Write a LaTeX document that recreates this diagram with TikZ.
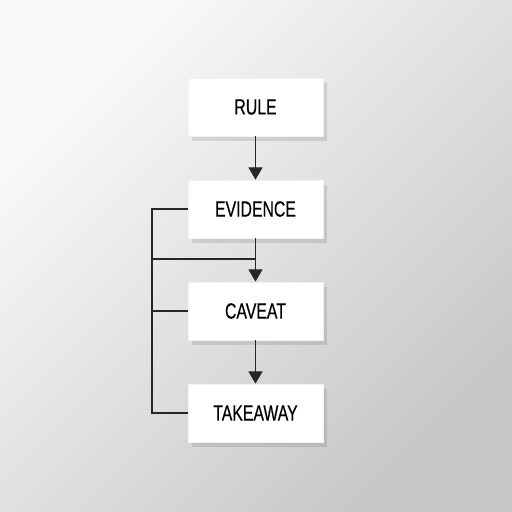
\documentclass[tikz,border=0pt]{standalone}
\usepackage{fontspec}
\setmainfont{Liberation Sans}[FakeStretch=0.72, FakeBold=0.4]
\usetikzlibrary{shadows, arrows.meta}
\tikzset{
	card/.style = {fill=white, draw=black!5, minimum width=135*0.02cm, minimum height=58*0.02cm,
		inner sep=0pt, font=\fontsize{12.5}{14}\selectfont,
		drop shadow={shadow xshift=2.5pt, shadow yshift=-3pt, opacity=.16, fill=black!70}},
	link/.style = {line width=.7pt, black!85},
	tip/.style = {-{Triangle[length=7pt, width=8pt]}}
}

\begin{document}
\begin{tikzpicture}[x = 0.02cm, y = -0.02cm]
%background
\shade[top color=black!2, bottom color=black!22, shading angle=45] (0,0) rectangle (512,512);
\useasboundingbox (0,0) rectangle (512,512);
%cards
\node[card] (rule) at (255.5,107) {RULE};
\node[card] (evidence) at (255.5,209) {EVIDENCE};
\node[card] (caveat) at (255.5,311) {CAVEAT};
\node[card] (takeaway) at (255.5,413) {TAKEAWAY};
%side rail
\coordinate (top) at (152,209);
\coordinate (bot) at (152,413);
\coordinate (join) at (152,259);
\coordinate (mid) at (152,311);
\draw[link] (evidence.west) -- (top) -- (bot) -- (takeaway.west);
\draw[link] (mid) -- (caveat.west);
\draw[link] (join) -- (evidence.south |- join);
%arrows
\foreach \a/\b in {rule/evidence, evidence/caveat, caveat/takeaway}{
	\draw[link, tip] (\a.south) -- (\b.north);
	}
\end{tikzpicture}
\end{document}
